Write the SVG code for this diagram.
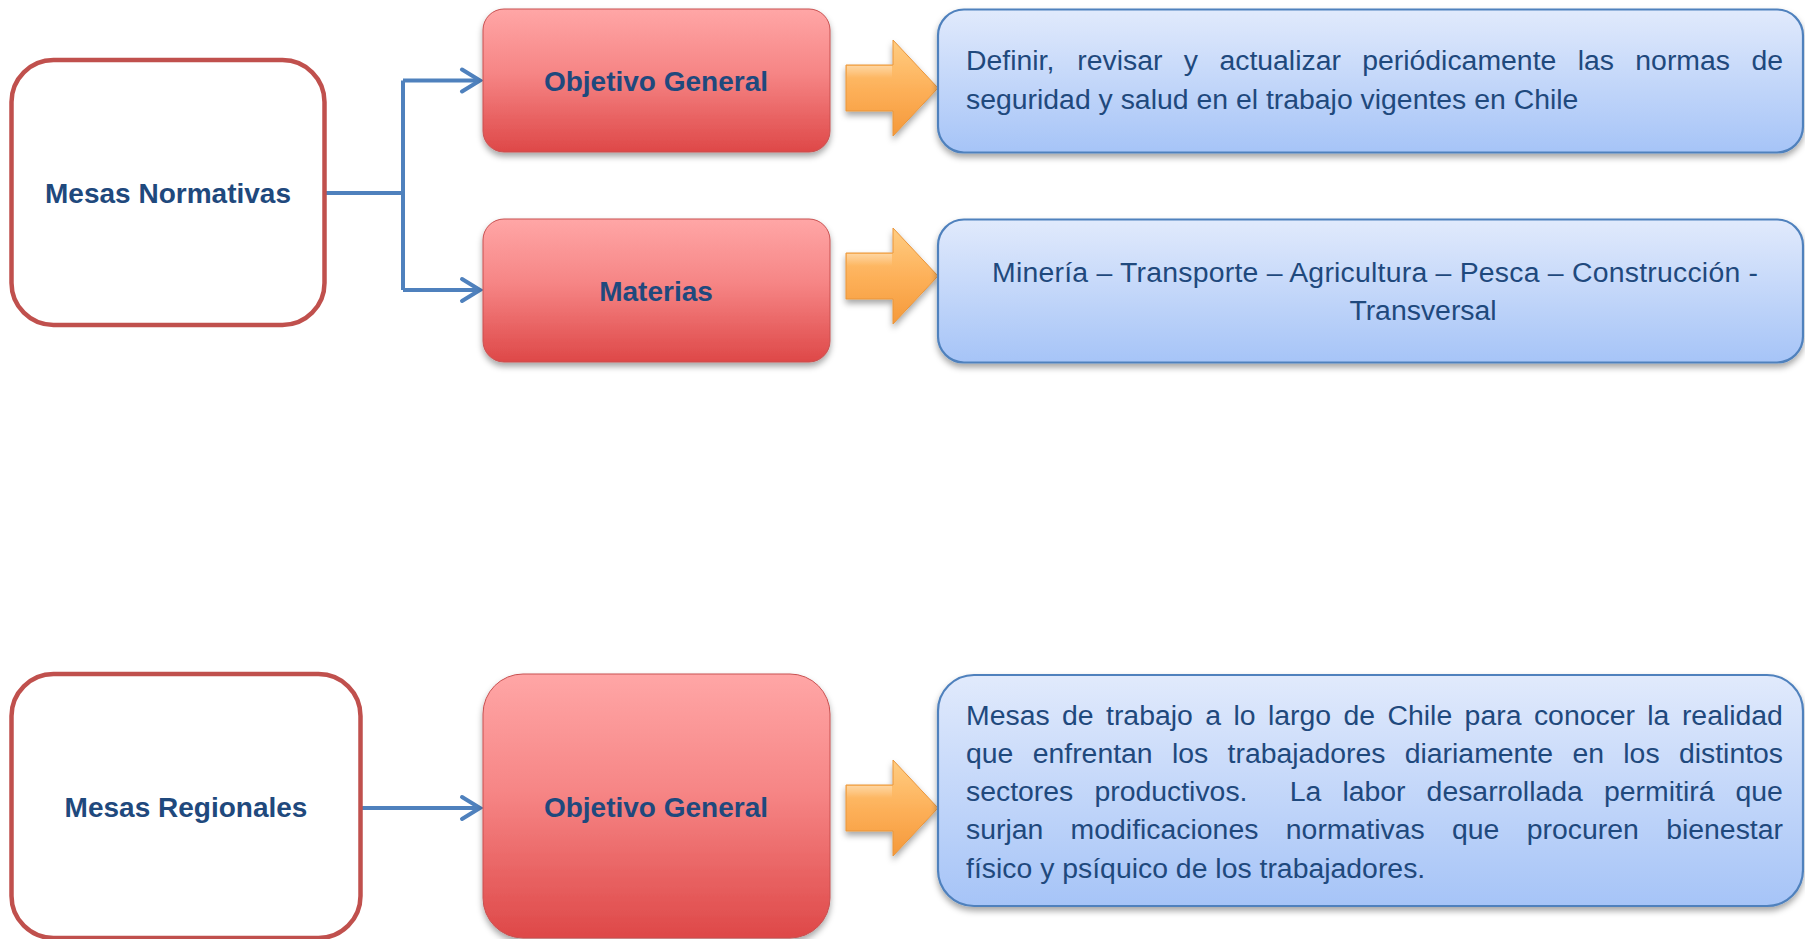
<svg xmlns="http://www.w3.org/2000/svg" width="1805" height="939" viewBox="0 0 1805 939">
  <defs>
    <linearGradient id="gRed" x1="0" y1="0" x2="0" y2="1">
      <stop offset="0" stop-color="#FFA6A6"/>
      <stop offset="0.45" stop-color="#F68585"/>
      <stop offset="1" stop-color="#DE4848"/>
    </linearGradient>
    <linearGradient id="gBlue" x1="0" y1="0" x2="0" y2="1">
      <stop offset="0" stop-color="#E1EAFC"/>
      <stop offset="1" stop-color="#A6C4F7"/>
    </linearGradient>
    <linearGradient id="gOrange" x1="0" y1="0" x2="0" y2="1">
      <stop offset="0" stop-color="#FFCD82"/>
      <stop offset="0.5" stop-color="#FDB15A"/>
      <stop offset="1" stop-color="#F5993A"/>
    </linearGradient>
    <linearGradient id="gShine" x1="0" y1="0" x2="0" y2="1">
      <stop offset="0" stop-color="#FFFFFF" stop-opacity="0.35"/>
      <stop offset="1" stop-color="#FFFFFF" stop-opacity="0"/>
    </linearGradient>
    <filter id="shadow" x="-10%" y="-10%" width="120%" height="130%">
      <feDropShadow dx="0" dy="4" stdDeviation="3" flood-color="#000000" flood-opacity="0.35"/>
    </filter>
    <marker id="chev" viewBox="-22 -14 26 28" refX="0" refY="0" markerWidth="26" markerHeight="28" markerUnits="userSpaceOnUse" orient="auto">
      <path d="M -18 -11 L 0 0 L -18 11" fill="none" stroke="#4F81BD" stroke-width="4" stroke-linecap="round" stroke-linejoin="miter"/>
    </marker>
    <style>
      .white { fill: #FFFFFF; stroke: #C0504D; stroke-width: 4.5; }
      .red { fill: url(#gRed); stroke: #C85050; stroke-width: 1; filter: url(#shadow); }
      .blue { fill: url(#gBlue); stroke: #4F81BD; stroke-width: 2.2; filter: url(#shadow); }
      .orange { fill: url(#gOrange); stroke: #E9953A; stroke-width: 1; filter: url(#shadow); }
      .lbl { font-family: "Liberation Sans", Arial, sans-serif; font-weight: bold; font-size: 28px; fill: #1F497D; text-anchor: middle; }
      .txt { font-family: "Liberation Sans", Arial, sans-serif; font-size: 28.4px; fill: #1F497D; }
      .conn { fill: none; stroke: #4F81BD; stroke-width: 4; }
    </style>
  </defs>

  <rect width="1805" height="939" fill="#FFFFFF"/>

  <!-- Connectors -->
  <g id="connectors">
    <path class="conn" d="M 325 193 H 403"/>
    <path class="conn" d="M 403 80.5 V 290"/>
    <path class="conn" d="M 403 80.5 H 480" marker-end="url(#chev)"/>
    <path class="conn" d="M 403 290 H 480" marker-end="url(#chev)"/>
    <path class="conn" d="M 361 808 H 480" marker-end="url(#chev)"/>
  </g>

  <!-- Row 1 -->
  <g id="mesas-normativas">
    <rect class="white" x="11.5" y="60" width="313" height="265" rx="42" ry="42"/>
    <text class="lbl" x="168" y="202.5">Mesas Normativas</text>
  </g>

  <g id="objetivo-general-1">
    <rect class="red" x="483" y="9" width="347" height="143" rx="21" ry="21"/>
    <text class="lbl" x="656" y="91">Objetivo General</text>
  </g>

  <g id="materias">
    <rect class="red" x="483" y="219" width="347" height="143" rx="21" ry="21"/>
    <text class="lbl" x="656" y="301">Materias</text>
  </g>

  <g id="arrow-1">
    <polygon class="orange" points="846,65 893,65 893,40 938,88 893,136 893,111 846,111"/>
    <polygon fill="url(#gShine)" points="847,66 892,66 892,78 847,78"/>
  </g>
  <g id="arrow-2">
    <polygon class="orange" points="846,253 893,253 893,228 938,276 893,324 893,299 846,299"/>
    <polygon fill="url(#gShine)" points="847,254 892,254 892,266 847,266"/>
  </g>

  <g id="objetivo-texto-1">
    <rect class="blue" x="938" y="9.5" width="865" height="143" rx="26" ry="26"/>
    <text class="txt" y="70">
      <tspan x="966">Definir,</tspan>
      <tspan x="1077.3">revisar</tspan>
      <tspan x="1183.8">y</tspan>
      <tspan x="1219.4">actualizar</tspan>
      <tspan x="1362.2">periódicamente</tspan>
      <tspan x="1577.7">las</tspan>
      <tspan x="1635.3">normas</tspan>
      <tspan x="1751.4">de</tspan>
    </text>
    <text class="txt" x="966" y="108.5">seguridad y salud en el trabajo vigentes en Chile</text>
  </g>

  <g id="materias-texto">
    <rect class="blue" x="938" y="219.5" width="865" height="143" rx="26" ry="26"/>
    <text class="txt" x="1375" y="282" text-anchor="middle" textLength="766" lengthAdjust="spacing">Minería – Transporte – Agricultura – Pesca – Construcción -</text>
    <text class="txt" x="1423" y="320" text-anchor="middle">Transversal</text>
  </g>

  <!-- Row 2 -->
  <g id="mesas-regionales">
    <rect class="white" x="11.5" y="674" width="349" height="264" rx="42" ry="42"/>
    <text class="lbl" x="186" y="816.5">Mesas Regionales</text>
  </g>

  <g id="objetivo-general-2">
    <rect class="red" x="483" y="674" width="347" height="264" rx="40" ry="40"/>
    <text class="lbl" x="656" y="816.5">Objetivo General</text>
  </g>

  <g id="arrow-3">
    <polygon class="orange" points="846,785 893,785 893,760 938,808 893,856 893,831 846,831"/>
    <polygon fill="url(#gShine)" points="847,786 892,786 892,798 847,798"/>
  </g>

  <g id="objetivo-texto-2">
    <rect class="blue" x="938" y="675" width="865" height="231" rx="36" ry="36"/>
    <text class="txt" y="724.5">
      <tspan x="966">Mesas</tspan>
      <tspan x="1062">de</tspan>
      <tspan x="1106">trabajo</tspan>
      <tspan x="1205.3">a</tspan>
      <tspan x="1233.5">lo</tspan>
      <tspan x="1268">largo</tspan>
      <tspan x="1343.5">de</tspan>
      <tspan x="1387.5">Chile</tspan>
      <tspan x="1464.6">para</tspan>
      <tspan x="1533.9">conocer</tspan>
      <tspan x="1647.3">la</tspan>
      <tspan x="1681.9">realidad</tspan>
    </text>
    <text class="txt" y="762.8">
      <tspan x="966">que</tspan>
      <tspan x="1032.7">enfrentan</tspan>
      <tspan x="1172">los</tspan>
      <tspan x="1227.6">trabajadores</tspan>
      <tspan x="1404.7">diariamente</tspan>
      <tspan x="1572.4">en</tspan>
      <tspan x="1623.3">los</tspan>
      <tspan x="1678.9">distintos</tspan>
    </text>
    <text class="txt" y="801.1">
      <tspan x="966">sectores</tspan>
      <tspan x="1094.4">productivos.</tspan>
      <tspan x="1289.7">La</tspan>
      <tspan x="1342.4">labor</tspan>
      <tspan x="1426.6">desarrollada</tspan>
      <tspan x="1604">permitirá</tspan>
      <tspan x="1735.5">que</tspan>
    </text>
    <text class="txt" y="839.4">
      <tspan x="966">surjan</tspan>
      <tspan x="1070.6">modificaciones</tspan>
      <tspan x="1285.8">normativas</tspan>
      <tspan x="1452">que</tspan>
      <tspan x="1526.7">procuren</tspan>
      <tspan x="1666.2">bienestar</tspan>
    </text>
    <text class="txt" x="966" y="877.7">físico y psíquico de los trabajadores.</text>
  </g>
</svg>
